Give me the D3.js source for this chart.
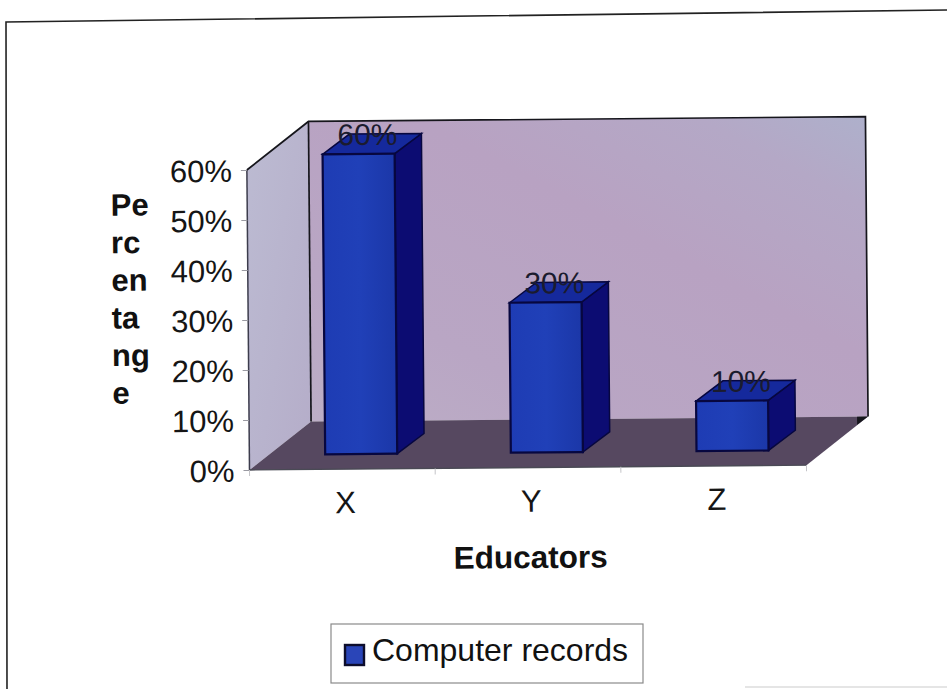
<!DOCTYPE html>
<html>
<head>
<meta charset="utf-8">
<script src="https://cdn.jsdelivr.net/npm/d3@7/dist/d3.min.js"></script>
<style>
html,body{margin:0;padding:0;background:#fff;overflow:hidden}
text{font-family:"Liberation Sans",Arial,sans-serif}
</style>
</head>
<body>
<script>
// Chart content
const categories = ["X", "Y", "Z"];
const seriesName = "Computer records";
const values = [60, 30, 10];
const valueLabels = ["60%", "30%", "10%"];
const yTicks = [0, 10, 20, 30, 40, 50, 60];
const yTitleLines = ["Pe", "rc", "en", "ta", "ng", "e"];
const xTitle = "Educators";

const W = 947, H = 689;
const svg = d3.select("body").append("svg").attr("width", W).attr("height", H).style("display", "block");

// Wall and bar shading
const defs = svg.append("defs");
const wallGrad = defs.append("linearGradient").attr("id", "wall")
  .attr("x1", "0").attr("y1", "1").attr("x2", "1").attr("y2", "0");
[[0, "#bcaec6"], [0.25, "#b9a6c4"], [0.6, "#b8a2c2"], [0.85, "#b4a8c6"], [1, "#aeb0cb"]]
  .forEach(([o, c]) => wallGrad.append("stop").attr("offset", o).attr("stop-color", c));
const sideGrad = defs.append("linearGradient").attr("id", "sideWall")
  .attr("x1", "0").attr("y1", "0").attr("x2", "1").attr("y2", "1");
[[0, "#bcbbd2"], [1, "#b5adc9"]]
  .forEach(([o, c]) => sideGrad.append("stop").attr("offset", o).attr("stop-color", c));
const frontGrad = defs.append("linearGradient").attr("id", "front")
  .attr("x1", "0").attr("y1", "0").attr("x2", "1").attr("y2", "0");
[[0, "#1e3cb4"], [0.5, "#2040b8"], [1, "#1b37a8"]]
  .forEach(([o, c]) => frontGrad.append("stop").attr("offset", o).attr("stop-color", c));

// Sheet frame
svg.append("path").attr("d", "M7,689 L6,22 L947,10")
  .attr("fill", "none").attr("stroke", "#222").attr("stroke-width", 1.6);
svg.append("path").attr("d", "M745,687 L947,687")
  .attr("fill", "none").attr("stroke", "#dcdcdc").attr("stroke-width", 1.5);

// The plot sits on a very slightly tilted sheet
const g = svg.append("g").attr("transform", "rotate(-0.5 249.5 470)");

const x = d3.scaleBand().domain(categories).range([249.5, 806.5]).paddingInner(0.612).paddingOuter(0.306);
const y = d3.scaleLinear().domain([0, 60]).range([470, 170]);
const depth = { dx: 62, dy: -48 };
const x0 = x.range()[0], x1 = x.range()[1], y0 = y(0), yTop = y(60);
const line = d3.line();

// Walls and floor
g.append("path").attr("fill", "url(#sideWall)")
  .attr("d", line([[x0, y0], [x0, yTop], [x0 + depth.dx, yTop + depth.dy], [x0 + depth.dx, y0 + depth.dy]]) + "Z");
g.append("path").attr("fill", "url(#wall)")
  .attr("d", line([[x0 + depth.dx, y0 + depth.dy], [x0 + depth.dx, yTop + depth.dy], [x1 + depth.dx, yTop + depth.dy], [x1 + depth.dx, y0 + depth.dy]]) + "Z");
g.append("path").attr("fill", "#564860")
  .attr("d", line([[x0, y0], [x0 + depth.dx, y0 + depth.dy], [x1 + depth.dx, y0 + depth.dy], [x1, y0]]) + "Z");

// Wall outlines
g.append("path").attr("fill", "none").attr("stroke", "#16161c").attr("stroke-width", 1.7)
  .attr("d", line([[x0, yTop], [x0 + depth.dx, yTop + depth.dy], [x1 + depth.dx, yTop + depth.dy], [x1 + depth.dx, y0 + depth.dy]]));
g.append("path").attr("fill", "none").attr("stroke", "#16161c").attr("stroke-width", 1.7)
  .attr("d", line([[x0 + depth.dx, yTop + depth.dy], [x0 + depth.dx, y0 + depth.dy]]));
g.append("path").attr("fill", "none").attr("stroke", "#3c3c4c").attr("stroke-width", 1.5)
  .attr("d", line([[x0, y0], [x0, yTop]]));
g.append("path").attr("fill", "none").attr("stroke", "#4a4a55").attr("stroke-width", 1.3)
  .attr("d", line([[x0, y0], [x1, y0]]));
// Dark notch where the floor meets the right wall
g.append("path").attr("fill", "#16161c")
  .attr("d", line([[x1 + depth.dx - 11, y0 + depth.dy], [x1 + depth.dx, y0 + depth.dy], [x1 + depth.dx - 11, y0 + depth.dy + 8]]) + "Z");

// Value axis
const yAxis = g.append("g").attr("class", "y-axis")
  .attr("transform", `translate(${x0},0)`)
  .call(d3.axisLeft(y).tickValues(yTicks).tickFormat(d => d + "%").tickSize(6).tickPadding(9));
yAxis.select(".domain").remove();
yAxis.selectAll(".tick line").attr("stroke", "#9a9aa2");
yAxis.selectAll("text").attr("font-size", 31).attr("fill", "#151515").attr("dy", "0.36em");

// Category axis
const xEdges = d3.range(categories.length + 1).map(i => x0 + i * x.step());
g.append("g").selectAll("line").data(xEdges).join("line")
  .attr("x1", d => d).attr("x2", d => d).attr("y1", y0).attr("y2", y0 + 6).attr("stroke", "#c4c4c8");
g.append("g").selectAll("text").data(categories).join("text")
  .attr("x", d => x(d) + x.bandwidth() / 2 + 3)
  .attr("y", 514).attr("text-anchor", "middle").attr("font-size", 31).attr("fill", "#151515").text(d => d);

// Bars: each stands partway back on the floor
const inset = { dx: 19, dy: -15 };
const barDepth = { dx: 27, dy: -20 };
const bars = g.append("g").selectAll("g").data(values).join("g");
const barLeft = (d, i) => x(categories[i]) + inset.dx;
const barRight = (d, i) => barLeft(d, i) + x.bandwidth();
const barTop = d => y(d) + inset.dy;
const barBase = y0 + inset.dy;
bars.append("path").attr("fill", "#0c0c72").attr("stroke", "#07073f").attr("stroke-width", 1.5)
  .attr("d", (d, i) => line([[barRight(d, i), barTop(d)], [barRight(d, i) + barDepth.dx, barTop(d) + barDepth.dy], [barRight(d, i) + barDepth.dx, barBase + barDepth.dy], [barRight(d, i), barBase]]) + "Z");
bars.append("path").attr("fill", "#15299c").attr("stroke", "#07073f").attr("stroke-width", 1.5)
  .attr("d", (d, i) => line([[barLeft(d, i), barTop(d)], [barLeft(d, i) + barDepth.dx, barTop(d) + barDepth.dy], [barRight(d, i) + barDepth.dx, barTop(d) + barDepth.dy], [barRight(d, i), barTop(d)]]) + "Z");
bars.append("path").attr("fill", "url(#front)").attr("stroke", "#07073f").attr("stroke-width", 2.2)
  .attr("d", (d, i) => line([[barLeft(d, i), barTop(d)], [barRight(d, i), barTop(d)], [barRight(d, i), barBase], [barLeft(d, i), barBase]]) + "Z");

// Value labels straddle the top face
g.append("g").selectAll("text").data(values).join("text")
  .attr("x", (d, i) => barLeft(d, i) + x.bandwidth() / 2 + 9)
  .attr("y", d => barTop(d) - 9)
  .attr("text-anchor", "middle").attr("font-size", 30).attr("fill", "#1b1b2e")
  .text((d, i) => valueLabels[i]);

// Axis titles
g.append("g").selectAll("text").data(yTitleLines).join("text")
  .attr("x", 113)
  .attr("y", (d, i) => 214.5 + i * 37.6)
  .attr("font-size", 31).attr("font-weight", "bold").attr("fill", "#111").text(d => d);
g.append("text").attr("x", 530).attr("y", 570.5).attr("text-anchor", "middle")
  .attr("font-size", 31.5).attr("font-weight", "bold").attr("fill", "#111").text(xTitle);

// Legend
const legend = svg.append("g");
legend.append("rect").attr("x", 331).attr("y", 624).attr("width", 312).attr("height", 59)
  .attr("fill", "#fff").attr("stroke", "#8a8a8a").attr("stroke-width", 1.2);
legend.append("rect").attr("x", 345).attr("y", 645).attr("width", 19).attr("height", 20)
  .attr("fill", "#2a45b8").attr("stroke", "#0d0d2c").attr("stroke-width", 2.4);
legend.append("text").attr("x", 372).attr("y", 661).attr("font-size", 32).attr("fill", "#111").text(seriesName);
</script>
</body>
</html>
